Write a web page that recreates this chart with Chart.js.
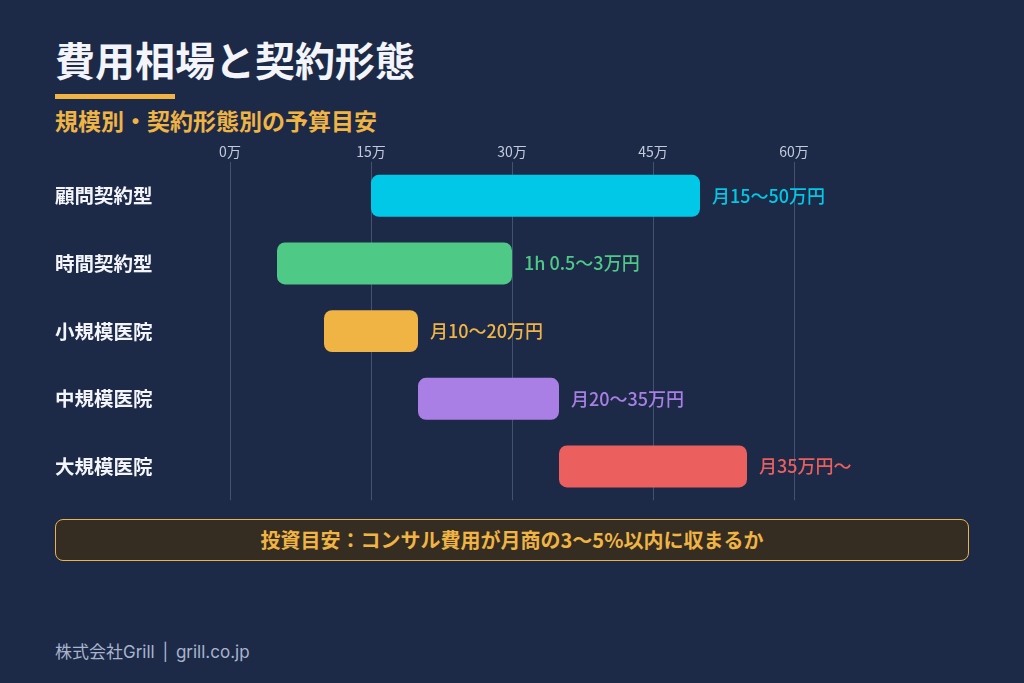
<!DOCTYPE html>
<html lang="ja">
<head>
<meta charset="utf-8">
<script src="https://cdn.jsdelivr.net/npm/chart.js@4.4.1/dist/chart.umd.min.js"></script>
<style>
  html, body { margin: 0; padding: 0; }
  body {
    width: 1024px; height: 683px; overflow: hidden; position: relative;
    background: #1c2a48;
    font-family: 'Noto Sans CJK JP', 'Noto Sans', sans-serif;
  }
  .title { position: absolute; left: 55px; top: 37px; font-size: 40px; line-height: 44px; font-weight: 700; color: #f3f5fa; }
  .rule { position: absolute; left: 55px; top: 94px; width: 120px; height: 5px; background: #f0b445; }
  .subtitle { position: absolute; left: 55px; top: 106px; font-size: 23px; line-height: 28px; font-weight: 700; color: #f0b445; }
  .chart-box { position: absolute; left: 40px; top: 135px; width: 940px; height: 380px; }
  .note {
    position: absolute; left: 55px; top: 519px; width: 912px; height: 40px;
    border: 1.5px solid #e8b44a; border-radius: 8px; background: #352d22;
    color: #f0b445; font-size: 20px; font-weight: 700; line-height: 40px; text-align: center;
  }
  .footer { position: absolute; left: 55px; top: 641px; font-size: 17px; line-height: 22px; color: #a9b4cc;
    font-family: 'Inter', 'Noto Sans CJK JP', sans-serif; word-spacing: 3px; }
</style>
</head>
<body>
<div class="title">費用相場と契約形態</div>
<div class="rule"></div>
<div class="subtitle">規模別・契約形態別の予算目安</div>
<div class="chart-box"><canvas id="chart"></canvas></div>
<div class="note">投資目安：コンサル費用が月商の3〜5%以内に収まるか</div>
<div class="footer">株式会社Grill | grill.co.jp</div>

<script>
// categories and ranges (万円 / month)
const categories = ['顧問契約型', '時間契約型', '小規模医院', '中規模医院', '大規模医院'];
const rangeStart = [15, 5, 10, 20, 35];
const rangeEnd = [50, 30, 20, 35, 55];
const valueLabels = ['月15〜50万円', '1h 0.5〜3万円', '月10〜20万円', '月20〜35万円', '月35万円〜'];
const tickStep = 15;

const barColors = ['#00c8e6', '#4ec986', '#f0b445', '#a97fe6', '#ec5f5f'];
const FONT = "'Noto Sans CJK JP', 'Noto Sans', sans-serif";

// draws the text right of each bar
const endLabels = {
    id: 'endLabels',
    afterDatasetsDraw(chart) {
        const ctx = chart.ctx;
        const meta = chart.getDatasetMeta(0);
        ctx.save();
        ctx.font = '500 18px ' + FONT;
        ctx.textAlign = 'left';
        ctx.textBaseline = 'middle';
        meta.data.forEach((bar, i) => {
            ctx.fillStyle = barColors[i];
            ctx.fillText(valueLabels[i], bar.x + 12, bar.y);
        });
        ctx.restore();
    }
};

const ctx = document.getElementById('chart').getContext('2d');
new Chart(ctx, {
    type: 'bar',
    data: {
        labels: categories,
        datasets: [{
            data: categories.map((c, i) => [rangeStart[i], rangeEnd[i]]),
            backgroundColor: barColors,
            borderRadius: 8,
            borderSkipped: false,
            categoryPercentage: 1,
            barPercentage: 0.62
        }]
    },
    options: {
        indexAxis: 'y',
        responsive: true,
        maintainAspectRatio: false,
        animation: false,
        layout: { padding: { left: 15, right: 92, top: 0, bottom: 0 } },
        plugins: {
            legend: { display: false },
            tooltip: { enabled: false }
        },
        scales: {
            x: {
                position: 'top',
                min: 0,
                max: 70,
                border: { display: false },
                grid: { color: 'rgba(170,185,215,0.28)', lineWidth: 1, drawTicks: false },
                ticks: {
                    stepSize: tickStep,
                    includeBounds: false,
                    padding: 2,
                    color: '#c3cbdc',
                    font: { family: FONT, size: 14 },
                    callback: v => v + '万'
                },
                afterFit: s => { s.height = 27; }
            },
            y: {
                border: { display: false },
                grid: { display: false },
                ticks: {
                    crossAlign: 'far',
                    color: '#f3f5fa',
                    font: { family: FONT, size: 19.5, weight: 'bold' }
                },
                afterFit: s => { s.width = 175; }
            }
        }
    },
    plugins: [endLabels]
});
</script>
</body>
</html>
